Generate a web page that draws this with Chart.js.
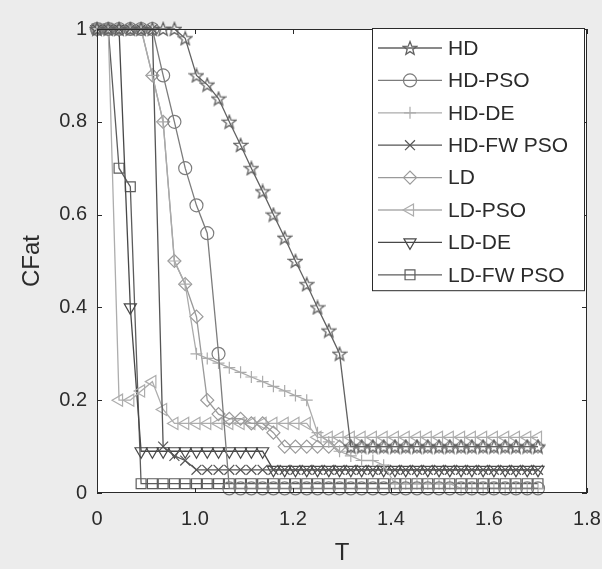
<!DOCTYPE html>
<html>
<head>
<meta charset="utf-8">
<script src="https://cdn.jsdelivr.net/npm/chart.js@4.4.0/dist/chart.umd.min.js"></script>
<style>
  html, body { margin: 0; padding: 0; background: #ececec; }
  #wrap { width: 602px; height: 569px; }
</style>
</head>
<body>
<div id="wrap"><canvas id="chart" width="602" height="569"></canvas></div>
<script>
var tValues = [0.800, 0.823, 0.845, 0.868, 0.890, 0.913, 0.935, 0.958, 0.980, 1.003,
  1.025, 1.048, 1.070, 1.093, 1.115, 1.138, 1.160, 1.183, 1.205, 1.228,
  1.250, 1.273, 1.295, 1.318, 1.340, 1.363, 1.385, 1.408, 1.430, 1.453,
  1.475, 1.498, 1.520, 1.543, 1.565, 1.588, 1.610, 1.633, 1.655, 1.678,
  1.700];
var xTickLabels = ['0', '1.0', '1.2', '1.4', '1.6', '1.8'];
var yTickLabels = ['0', '0.2', '0.4', '0.6', '0.8', '1'];

var hd = [1, 1, 1, 1, 1, 1, 1, 1, 0.98, 0.90,
  0.88, 0.85, 0.80, 0.75, 0.70, 0.65, 0.60, 0.55, 0.50, 0.45,
  0.40, 0.35, 0.30, 0.10, 0.10, 0.10, 0.10, 0.10, 0.10, 0.10,
  0.10, 0.10, 0.10, 0.10, 0.10, 0.10, 0.10, 0.10, 0.10, 0.10, 0.10];
var hdPso = [1, 1, 1, 1, 1, 1, 0.90, 0.80, 0.70, 0.62,
  0.56, 0.30, 0.01, 0.01, 0.01, 0.01, 0.01, 0.01, 0.01, 0.01,
  0.01, 0.01, 0.01, 0.01, 0.01, 0.01, 0.01, 0.01, 0.01, 0.01,
  0.01, 0.01, 0.01, 0.01, 0.01, 0.01, 0.01, 0.01, 0.01, 0.01, 0.01];
var hdDe = [1, 1, 1, 1, 1, 0.90, 0.80, 0.50, 0.45, 0.30,
  0.29, 0.28, 0.27, 0.26, 0.25, 0.24, 0.23, 0.22, 0.21, 0.20,
  0.13, 0.11, 0.09, 0.08, 0.07, 0.07, 0.06, 0.02, 0.02, 0.02,
  0.02, 0.02, 0.02, 0.01, 0.01, 0.01, 0.01, 0.01, 0.01, 0.01, 0.01];
var hdFwPso = [1, 1, 1, 1, 1, 1, 0.10, 0.08, 0.07, 0.05,
  0.05, 0.05, 0.05, 0.05, 0.05, 0.05, 0.05, 0.05, 0.05, 0.05,
  0.05, 0.05, 0.05, 0.05, 0.05, 0.05, 0.05, 0.05, 0.05, 0.05,
  0.05, 0.05, 0.05, 0.05, 0.05, 0.05, 0.05, 0.05, 0.05, 0.05, 0.05];
var ld = [1, 1, 1, 1, 1, 0.90, 0.80, 0.50, 0.45, 0.38,
  0.20, 0.17, 0.16, 0.16, 0.15, 0.15, 0.13, 0.10, 0.10, 0.10,
  0.10, 0.10, 0.10, 0.10, 0.10, 0.10, 0.10, 0.10, 0.10, 0.10,
  0.10, 0.10, 0.10, 0.10, 0.10, 0.10, 0.10, 0.10, 0.10, 0.10, 0.10];
var ldPso = [1, 1, 0.20, 0.20, 0.22, 0.24, 0.18, 0.15, 0.15, 0.15,
  0.15, 0.15, 0.15, 0.15, 0.15, 0.15, 0.15, 0.15, 0.15, 0.15,
  0.12, 0.12, 0.12, 0.12, 0.12, 0.12, 0.12, 0.12, 0.12, 0.12,
  0.12, 0.12, 0.12, 0.12, 0.12, 0.12, 0.12, 0.12, 0.12, 0.12, 0.12];
var ldDe = [1, 1, 1, 0.40, 0.09, 0.09, 0.09, 0.09, 0.09, 0.09,
  0.09, 0.09, 0.09, 0.09, 0.09, 0.09, 0.05, 0.05, 0.05, 0.05,
  0.05, 0.05, 0.05, 0.05, 0.05, 0.05, 0.05, 0.05, 0.05, 0.05,
  0.05, 0.05, 0.05, 0.05, 0.05, 0.05, 0.05, 0.05, 0.05, 0.05, 0.05];
var ldFwPso = [1, 1, 0.70, 0.66, 0.02, 0.02, 0.02, 0.02, 0.02, 0.02,
  0.02, 0.02, 0.02, 0.02, 0.02, 0.02, 0.02, 0.02, 0.02, 0.02,
  0.02, 0.02, 0.02, 0.02, 0.02, 0.02, 0.02, 0.02, 0.02, 0.02,
  0.02, 0.02, 0.02, 0.02, 0.02, 0.02, 0.02, 0.02, 0.02, 0.02, 0.02];

var fontFamily = '"Liberation Sans", Arial, Helvetica, sans-serif';
var textColor = '#2b2b2b';

// five pointed star marker (chart.js "star" is an asterisk)
function makeStar(color) {
  var c = document.createElement('canvas');
  c.width = 16;
  c.height = 16;
  var g = c.getContext('2d');
  g.strokeStyle = color;
  g.lineWidth = 1.3;
  g.beginPath();
  for (var i = 0; i < 10; i++) {
    var r = i % 2 === 0 ? 7 : 3;
    var ang = -Math.PI / 2 + i * Math.PI / 5;
    var px = 8 + r * Math.cos(ang);
    var py = 8.6 + r * Math.sin(ang);
    if (i === 0) g.moveTo(px, py); else g.lineTo(px, py);
  }
  g.closePath();
  g.stroke();
  return c;
}

function makeSeries(label, values, color, style, rotation, radius) {
  var pts = [];
  for (var i = 0; i < tValues.length; i++) {
    pts.push({ x: tValues[i], y: values[i] });
  }
  return {
    label: label,
    data: pts,
    borderColor: color,
    borderWidth: 1.3,
    pointStyle: style,
    pointRotation: rotation,
    pointRadius: radius,
    pointBorderColor: color,
    pointBorderWidth: 1.2,
    pointBackgroundColor: 'rgba(0,0,0,0)',
    tension: 0,
    clip: false
  };
}

var datasets = [
  makeSeries('HD', hd, '#626262', makeStar('#626262'), 0, 7),
  makeSeries('HD-PSO', hdPso, '#7c7c7c', 'circle', 0, 6.5),
  makeSeries('HD-DE', hdDe, '#ababab', 'cross', 0, 6),
  makeSeries('HD-FW PSO', hdFwPso, '#555555', 'crossRot', 0, 7),
  makeSeries('LD', ld, '#9a9a9a', 'rectRot', 0, 6.5),
  makeSeries('LD-PSO', ldPso, '#adadad', 'triangle', -90, 7),
  makeSeries('LD-DE', ldDe, '#484848', 'triangle', 180, 7),
  makeSeries('LD-FW PSO', ldFwPso, '#5c5c5c', 'rect', 0, 7)
];

var framePlugin = {
  id: 'framePlugin',
  beforeDraw: function (chart) {
    var ctx = chart.ctx, a = chart.chartArea;
    ctx.save();
    ctx.fillStyle = '#ececec';
    ctx.fillRect(0, 0, chart.width, chart.height);
    ctx.fillStyle = '#ffffff';
    ctx.fillRect(a.left, a.top, a.right - a.left, a.bottom - a.top);
    ctx.restore();
  },
  afterDatasetsDraw: function (chart) {
    var ctx = chart.ctx, a = chart.chartArea;
    var xs = chart.scales.x, ys = chart.scales.y;
    var len = 5;
    ctx.save();
    ctx.strokeStyle = '#2a2a2a';
    ctx.lineWidth = 1;
    ctx.strokeRect(a.left + 0.5, a.top + 0.5, a.right - a.left - 1, a.bottom - a.top - 1);
    ctx.beginPath();
    xs.ticks.forEach(function (t, i) {
      var px = Math.round(xs.getPixelForTick(i)) + 0.5;
      ctx.moveTo(px, a.bottom); ctx.lineTo(px, a.bottom - len);
      ctx.moveTo(px, a.top); ctx.lineTo(px, a.top + len);
    });
    ys.ticks.forEach(function (t, i) {
      var py = Math.round(ys.getPixelForTick(i)) + 0.5;
      ctx.moveTo(a.left, py); ctx.lineTo(a.left + len, py);
      ctx.moveTo(a.right, py); ctx.lineTo(a.right - len, py);
    });
    ctx.stroke();
    ctx.restore();
  },
  afterDraw: function (chart) {
    var ctx = chart.ctx, a = chart.chartArea;
    var lw = 212, rowH = 32.4;
    var lx = a.right - 215, ly = a.top - 1;
    var lh = rowH * chart.data.datasets.length + 3;
    ctx.save();
    ctx.fillStyle = '#ffffff';
    ctx.fillRect(lx, ly, lw, lh);
    ctx.strokeStyle = '#2a2a2a';
    ctx.lineWidth = 1;
    ctx.strokeRect(lx + 0.5, ly + 0.5, lw, lh);
    chart.data.datasets.forEach(function (ds, i) {
      var cy = ly + 20 + i * rowH;
      ctx.strokeStyle = ds.borderColor;
      ctx.lineWidth = ds.borderWidth;
      ctx.beginPath();
      ctx.moveTo(lx + 6, cy);
      ctx.lineTo(lx + 70, cy);
      ctx.stroke();
      ctx.lineWidth = ds.pointBorderWidth;
      ctx.fillStyle = 'rgba(0,0,0,0)';
      Chart.helpers.drawPoint(ctx, {
        pointStyle: ds.pointStyle,
        rotation: ds.pointRotation,
        radius: ds.pointRadius,
        borderWidth: ds.pointBorderWidth
      }, lx + 38, cy);
      ctx.fillStyle = textColor;
      ctx.font = '21px ' + fontFamily;
      ctx.textBaseline = 'middle';
      ctx.textAlign = 'left';
      ctx.fillText(ds.label, lx + 76, cy + 1);
    });
    ctx.restore();
  }
};

new Chart(document.getElementById('chart'), {
  type: 'line',
  data: { datasets: datasets },
  plugins: [framePlugin],
  options: {
    responsive: false,
    animation: false,
    devicePixelRatio: 1,
    layout: { padding: { top: 29, right: 0, left: 0, bottom: 0 } },
    plugins: { legend: { display: false }, tooltip: { enabled: false } },
    scales: {
      x: {
        type: 'linear',
        min: 0.8,
        max: 1.8,
        grid: { display: false, drawTicks: false },
        border: { display: false },
        ticks: {
          stepSize: 0.2,
          autoSkip: false,
          maxRotation: 0,
          padding: 14,
          color: textColor,
          font: { family: fontFamily, size: 20 },
          callback: function (v, i) { return xTickLabels[i]; }
        },
        title: {
          display: true,
          text: 'T',
          color: textColor,
          font: { family: fontFamily, size: 24 },
          padding: { top: 0, bottom: 1 }
        },
        afterFit: function (s) { s.height = 76; s.paddingRight = 15; }
      },
      y: {
        type: 'linear',
        min: 0,
        max: 1,
        grid: { display: false, drawTicks: false },
        border: { display: false },
        ticks: {
          stepSize: 0.2,
          padding: 10,
          color: textColor,
          font: { family: fontFamily, size: 20 },
          callback: function (v, i) { return yTickLabels[i]; }
        },
        title: {
          display: true,
          text: 'CFat',
          color: textColor,
          font: { family: fontFamily, size: 24 },
          padding: { top: 18, bottom: 0 }
        },
        afterFit: function (s) { s.width = 97; }
      }
    }
  }
});
</script>
</body>
</html>
